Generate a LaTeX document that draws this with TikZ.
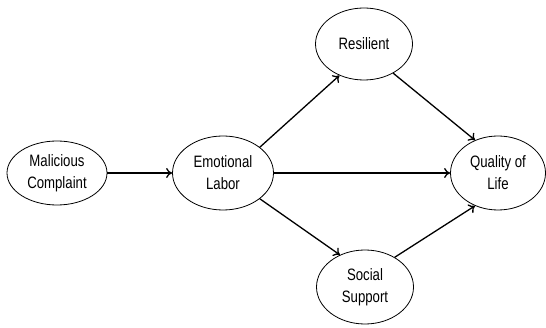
\documentclass[tikz,border=0pt]{standalone}
\usepackage{fontspec}
\setmainfont{Liberation Sans}[FakeStretch=0.8]
\usetikzlibrary{shapes.geometric,arrows.meta}
\begin{document}
\begin{tikzpicture}[x=1pt,y=-1pt,
  var/.style={draw, ellipse, line width=0.8pt, minimum width=#1, align=center, font=\fontsize{16.5}{22}\selectfont, inner sep=0pt},
  var/.default=98pt,
  conn/.style={line width=1.3pt, -{To[length=6pt,width=10pt]}}]
\useasboundingbox (0,0) rectangle (546,328);
\node[var=100pt, minimum height=64pt] (mc) at (57,173) {Malicious\\Complaint};
\node[var=101pt, minimum height=74pt] (el) at (223,173) {Emotional\\Labor};
\node[var=97pt, minimum height=72pt] (rs) at (364,44) {Resilient};
\node[var=95pt, minimum height=74pt] (ql) at (498,173) {Quality of\\Life};
\node[var=97pt, minimum height=74pt] (ss) at (365,287) {Social\\Support};
\draw[conn] (mc) -- (el);
\draw[conn] (el.east) -- (ql.west);
\draw[conn] (el.35) -- (rs.-128);
\draw[conn] (el.-35) -- (ss.128);
\draw[conn] (rs.-45) -- (ql.125);
\draw[conn] (ss.45) -- (ql.-125);
\end{tikzpicture}
\end{document}
